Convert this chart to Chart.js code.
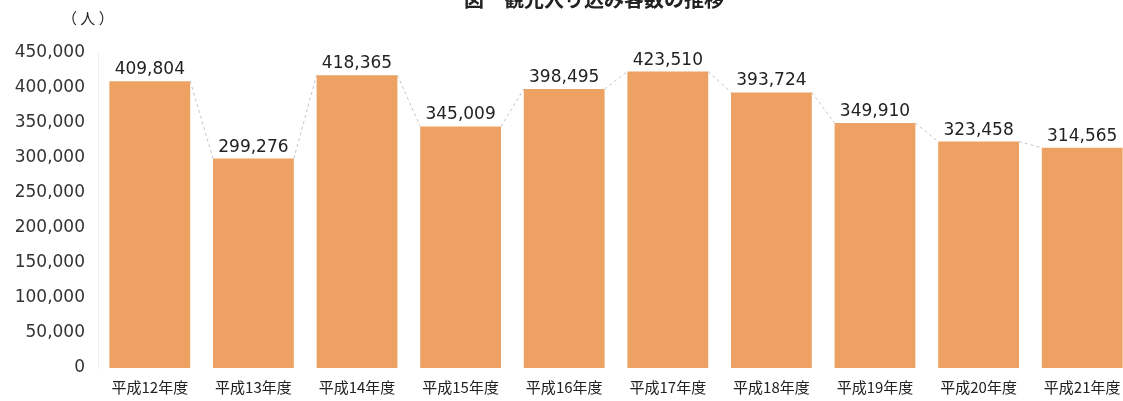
<!DOCTYPE html>
<html>
<head>
<meta charset="utf-8">
<script src="https://cdn.jsdelivr.net/npm/chart.js@4.4.0/dist/chart.umd.min.js"></script>
<style>
  html, body { margin: 0; padding: 0; background: #fff; overflow: hidden; }
  #wrap { width: 1136px; height: 401px; }
</style>
</head>
<body>
<div id="wrap"><canvas id="myChart"></canvas></div>
<script>
const chartTitle = "図　観光入り込み客数の推移";
const unitLabel = "（ 人 ）";
const years = ["平成12年度", "平成13年度", "平成14年度", "平成15年度", "平成16年度",
               "平成17年度", "平成18年度", "平成19年度", "平成20年度", "平成21年度"];
const visitors = [409804, 299276, 418365, 345009, 398495, 423510, 393724, 349910, 323458, 314565];
const yTicks = [0, 50000, 100000, 150000, 200000, 250000, 300000, 350000, 400000, 450000];

const numFont = "DejaVu Sans, sans-serif";
const jpFont = "'Noto Sans CJK JP', sans-serif";

// dashed series lines between bar tops, value labels, title and unit
const extras = {
  id: "extras",
  afterDatasetsDraw(chart) {
    const ctx = chart.ctx;
    const bars = chart.getDatasetMeta(0).data;
    ctx.save();
    ctx.strokeStyle = "#c4c4c4";
    ctx.lineWidth = 1;
    ctx.setLineDash([3, 3]);
    for (let i = 0; i < bars.length - 1; i++) {
      const a = bars[i], b = bars[i + 1];
      ctx.beginPath();
      ctx.moveTo(a.x + a.width / 2, a.y);
      ctx.lineTo(b.x - b.width / 2, b.y);
      ctx.stroke();
    }
    ctx.setLineDash([]);
    ctx.fillStyle = "#222";
    ctx.font = "17px " + numFont;
    ctx.textAlign = "center";
    ctx.textBaseline = "alphabetic";
    bars.forEach((bar, i) => {
      ctx.fillText(visitors[i].toLocaleString("en-US"), bar.x, bar.y - 7);
    });
    ctx.font = "bold 20px " + jpFont;
    ctx.textBaseline = "middle";
    ctx.fillText(chartTitle, 594, -1);
    ctx.font = "15px " + jpFont;
    ctx.textAlign = "left";
    ctx.fillText(unitLabel, 62, 18);
    ctx.restore();
  }
};

new Chart(document.getElementById("myChart"), {
  type: "bar",
  data: {
    labels: years,
    datasets: [{
      data: visitors,
      backgroundColor: "#eda263",
      borderWidth: 0,
      barPercentage: 0.78,
      categoryPercentage: 1.0
    }]
  },
  options: {
    responsive: true,
    maintainAspectRatio: false,
    animation: false,
    layout: { padding: { top: 53, right: 2, bottom: 0, left: 0 } },
    plugins: { legend: { display: false }, tooltip: { enabled: false } },
    scales: {
      x: {
        grid: { display: false, drawTicks: false },
        border: { display: false },
        ticks: { color: "#222", font: { family: jpFont, size: 15 }, padding: 10, maxRotation: 0 },
        afterFit(scale) { scale.height = 33; }
      },
      y: {
        min: 0,
        max: 450000,
        grid: { display: false, drawTicks: false },
        border: { display: true, color: "#eef0f4" },
        afterBuildTicks(scale) { scale.ticks = yTicks.map(v => ({ value: v })); },
        ticks: {
          color: "#333",
          font: { family: numFont, size: 17 },
          padding: 13,
          callback: v => v.toLocaleString("en-US")
        },
        afterFit(scale) { scale.width = 98; }
      }
    }
  },
  plugins: [extras]
});
</script>
</body>
</html>
